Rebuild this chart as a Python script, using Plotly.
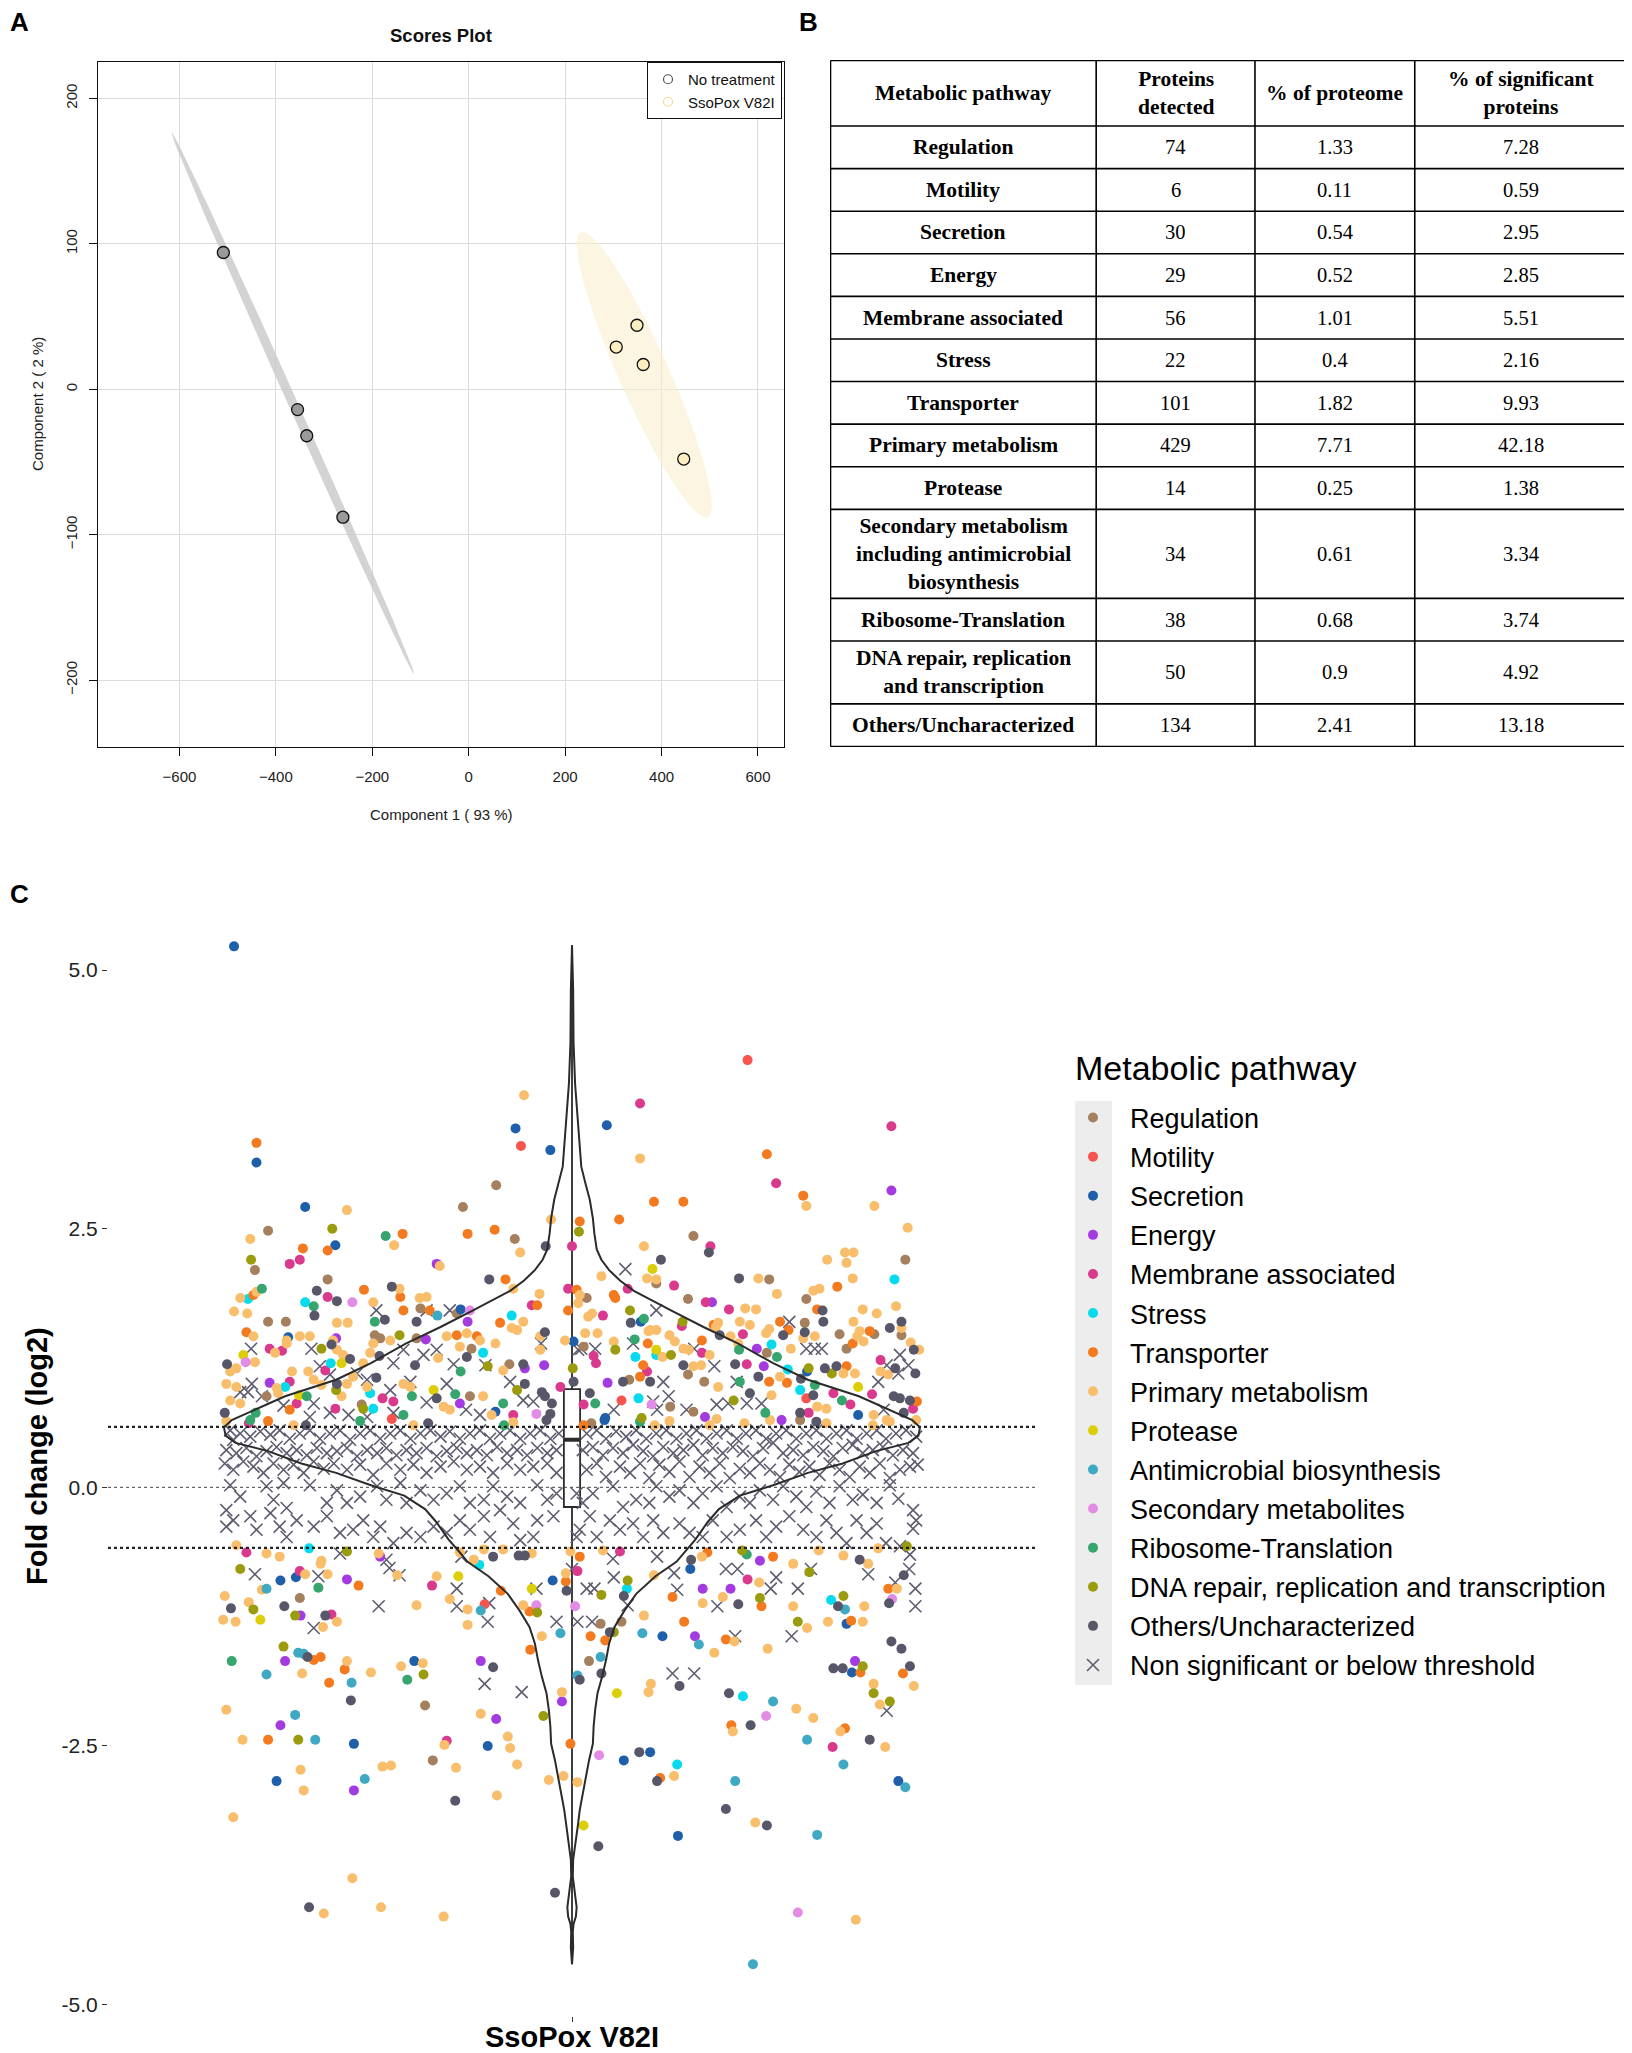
import numpy as np
import plotly.graph_objects as go

# ---------------- Panel A: PCA scores ----------------
no_treat_c1 = [-509, -355, -336, -261]
no_treat_c2 = [94, -14, -32, -88]
sso_c1 = [306, 349, 362, 446]
sso_c2 = [29, 44, 17, -48]
# confidence ellipses: centre x, centre y, half-axis vector a, half-axis vector b
no_treat_ellipse = [-365, -9.5, -252, 186.5, 9.0, 1.4]
sso_ellipse = [364, 10, -132, 98, 47, 7.2]

# ---------------- Panel B: table ----------------
table_header = ["Metabolic pathway", "Proteins<br>detected", "% of proteome", "% of significant<br>proteins"]
pathways = ["Regulation", "Motility", "Secretion", "Energy", "Membrane associated", "Stress",
            "Transporter", "Primary metabolism", "Protease",
            "Secondary metabolism<br>including antimicrobial<br>biosynthesis",
            "Ribosome-Translation", "DNA repair, replication<br>and transcription",
            "Others/Uncharacterized"]
proteins_detected = ["74", "6", "30", "29", "56", "22", "101", "429", "14", "34", "38", "50", "134"]
pct_proteome = ["1.33", "0.11", "0.54", "0.52", "1.01", "0.4", "1.82", "7.71", "0.25", "0.61", "0.68", "0.9", "2.41"]
pct_significant = ["7.28", "0.59", "2.95", "2.85", "5.51", "2.16", "9.93", "42.18", "1.38", "3.34", "3.74", "4.92", "13.18"]
table_col_widths = [266, 159, 160, 213]
table_row_heights = [65.5] + [42.6] * 9 + [89.1, 42.6, 62.9, 42.6]

# ---------------- Panel C: (jitter offset, log2 fold change) ----------------
regulation = [(-0.098,2.92),(-0.141,2.71),(0.157,2.43),(-0.393,2.48),(-0.074,2.40),(0.431,2.20),(-0.410,2.10),(-0.316,2.01),(0.019,1.83),(-0.196,1.73),(-0.149,1.68),(-0.393,1.60),(-0.370,1.60),(-0.255,1.47),(-0.248,1.44),(-0.201,1.44),(-0.130,1.34),(0.015,1.36),(-0.081,1.19),(-0.395,0.88),(-0.272,0.80),(-0.132,0.88),(0.109,1.97),(0.255,2.01),(0.303,1.82),(0.150,1.82),(0.301,1.59),(0.391,1.48),(0.346,1.48),(0.426,1.47),(0.252,1.30),(0.355,1.34),(0.074,1.04),(0.150,1.09),(0.171,1.02),(0.157,0.73),(0.127,0.78),(0.025,0.62),(0.295,0.65),(-0.352,-1.07),(0.037,-1.32),(0.064,-1.30),(0.022,-1.68),(-0.190,-2.11),(-0.180,-2.64)]
motility = [(0.227,4.13),(-0.066,3.30),(-0.233,0.66),(0.303,0.86),(0.064,0.84),(-0.113,-1.13)]
secretion = [(-0.437,5.23),(-0.073,3.47),(0.045,3.50),(-0.028,3.26),(-0.408,3.14),(-0.345,2.71),(-0.306,2.34),(-0.144,1.72),(-0.367,1.45),(0.002,1.41),(-0.099,0.73),(0.089,1.60),(0.304,1.12),(0.370,0.70),(0.043,0.67),(0.042,0.65),(-0.377,-0.90),(-0.357,-0.87),(-0.025,-0.90),(0.117,-1.44),(0.153,-0.79),(0.355,-1.32),(-0.204,-1.68),(0.362,-1.79),(0.422,-2.84),(-0.282,-2.48),(-0.382,-2.84),(-0.109,-2.50),(0.067,-2.64),(0.101,-2.56),(0.137,-3.37)]
energy = [(0.413,2.87),(-0.175,2.16),(-0.135,1.60),(-0.305,1.44),(-0.189,1.43),(-0.061,1.15),(-0.036,1.18),(-0.391,1.01),(-0.145,0.81),(0.181,1.79),(0.239,1.34),(0.046,1.01),(0.248,1.17),(0.271,0.65),(0.172,0.68),(-0.248,-0.67),(0.243,-0.71),(-0.291,-0.89),(-0.351,-1.24),(0.169,-0.98),(0.205,-0.98),(0.159,-1.44),(-0.371,-1.68),(-0.118,-1.68),(-0.013,-2.07),(0.366,-1.68),(-0.377,-2.30),(-0.282,-2.93),(-0.098,-2.24)]
membrane = [(0.088,3.71),(0.413,3.49),(0.264,2.94),(0.000,2.33),(0.179,2.33),(-0.352,2.20),(-0.365,2.16),(-0.005,1.92),(-0.052,1.76),(-0.316,1.84),(-0.391,1.34),(-0.375,1.32),(-0.365,1.02),(-0.356,0.81),(-0.319,1.13),(-0.306,0.76),(-0.245,0.86),(-0.231,0.83),(-0.076,0.70),(-0.015,0.97),(0.132,1.95),(0.072,1.92),(0.173,1.79),(0.203,1.72),(0.040,1.66),(0.142,1.56),(0.221,1.48),(0.168,1.30),(0.028,1.27),(0.031,1.20),(0.097,1.12),(0.226,1.19),(0.399,1.23),(0.388,0.90),(0.338,0.91),(0.360,0.80),(0.306,0.72),(0.441,0.76),(0.015,0.80),(-0.418,0.62),(-0.421,-0.63),(0.062,-0.62),(-0.352,-0.81),(0.007,-0.81),(-0.311,-1.23),(-0.181,-0.95),(0.227,-0.89),(0.337,-2.51),(-0.162,-2.45)]
stress = [(-0.419,1.82),(-0.345,1.79),(-0.078,1.66),(-0.115,1.30),(-0.312,1.20),(-0.371,0.97),(-0.261,0.91),(-0.257,0.76),(0.417,2.01),(0.082,1.26),(0.258,1.38),(0.279,1.14),(0.295,0.94),(0.086,0.86),(0.109,1.28),(-0.340,-0.59),(-0.120,-0.75),(0.071,-0.98),(0.335,-1.09),(0.221,-2.02),(0.136,-2.68)]
transporter = [(-0.408,3.33),(0.252,3.22),(0.299,2.82),(0.106,2.76),(0.144,2.76),(0.010,2.57),(0.061,2.59),(-0.219,2.45),(-0.135,2.45),(-0.100,2.49),(-0.348,2.31),(-0.316,2.29),(-0.269,1.91),(-0.086,2.01),(-0.045,1.76),(0.006,1.91),(-0.005,1.71),(-0.412,1.86),(-0.222,1.84),(-0.218,1.71),(-0.184,1.71),(-0.093,1.59),(-0.421,1.50),(-0.149,1.47),(-0.123,1.46),(-0.365,0.75),(0.343,1.94),(0.054,1.86),(0.056,1.83),(0.317,1.72),(0.183,1.57),(0.269,1.60),(0.280,1.52),(0.385,1.51),(0.098,1.39),(0.168,1.42),(0.363,1.39),(0.088,1.07),(0.092,1.18),(0.255,1.02),(0.278,1.01),(0.355,1.17),(0.446,0.83),(-0.393,0.64),(0.015,0.60),(0.010,-0.67),(0.175,-0.63),(0.260,-0.67),(-0.276,-0.95),(-0.092,-1.00),(-0.055,-1.20),(-0.008,-0.91),(0.024,-1.44),(0.043,-1.48),(0.130,-1.06),(0.145,-1.30),(0.199,-1.47),(0.245,-1.15),(0.361,-1.29),(0.409,-0.98),(-0.334,-1.67),(-0.325,-1.64),(-0.314,-1.89),(-0.294,-1.76),(-0.054,-1.57),(0.373,-1.79),(0.428,-1.80),(0.206,-2.30),(0.353,-2.33),(-0.393,-2.44),(-0.002,-2.48),(0.114,-2.81)]
primary = [(-0.062,3.79),(0.088,3.18),(0.303,2.72),(0.391,2.72),(-0.291,2.68),(-0.027,2.59),(0.434,2.51),(-0.416,2.40),(-0.230,2.34),(-0.067,2.27),(0.093,2.33),(0.353,2.27),(0.364,2.27),(0.330,2.20),
           (-0.171,2.14),(-0.223,1.92),(-0.076,1.92),(-0.042,1.87),(0.008,1.78),(-0.408,1.89),(-0.429,1.83),(-0.437,1.70),(-0.420,1.68),(-0.257,1.79),(-0.197,1.83),(-0.188,1.84),(-0.063,1.60),(-0.078,1.54),(-0.071,1.52),(-0.041,1.46),(-0.304,1.59),(-0.290,1.59),(-0.412,1.46),(-0.369,1.42),(-0.352,1.46),(-0.339,1.46),(-0.309,1.42),(-0.257,1.39),(-0.235,1.42),(-0.162,1.46),(-0.136,1.49),(-0.119,1.42),(-0.369,1.39),(-0.384,1.30),(-0.410,1.21),(-0.434,1.15),(-0.442,1.12),(-0.304,1.33),(-0.296,1.28),(-0.261,1.30),(-0.270,1.20),(-0.173,1.25),(-0.145,1.36),(-0.099,1.39),(-0.089,1.13),(-0.009,1.42),(-0.041,1.33),(-0.447,1.00),(-0.434,0.97),(-0.429,0.81),(-0.442,0.84),(-0.380,0.91),(-0.382,0.96),(-0.362,1.12),(-0.341,1.12),(-0.334,1.04),(-0.324,0.99),(-0.291,1.00),(-0.298,0.88),(-0.283,1.07),(-0.265,0.97),(-0.218,1.00),(-0.209,0.97),(-0.166,0.78),(-0.158,0.75),(-0.115,0.88),(-0.104,0.70),
           (0.355,2.17),(0.038,2.04),(0.097,2.02),(0.109,2.01),(0.241,2.02),(0.265,1.87),(0.363,2.02),(0.312,1.90),(0.320,1.92),(0.010,1.86),(0.224,1.73),(0.238,1.72),(0.376,1.72),(0.394,1.68),(0.419,1.75),(0.426,1.54),(0.438,1.40),(0.449,1.33),(0.021,1.65),(0.026,1.68),(0.101,1.52),(0.109,1.52),(0.189,1.59),(0.186,1.55),(0.217,1.60),(0.230,1.57),(0.255,1.53),(0.251,1.49),(0.364,1.60),(0.372,1.51),(0.314,1.46),(0.299,1.44),(0.017,1.49),(0.033,1.49),(0.054,1.41),(0.099,1.51),(0.126,1.47),(0.133,1.41),(0.117,1.26),(0.144,1.34),(0.151,1.33),(0.178,1.28),(0.205,1.46),(0.215,1.39),(0.283,1.34),(0.377,1.41),(0.369,1.46),(0.157,1.17),(0.167,1.18),(0.189,0.97),(0.269,1.07),(0.351,1.10),(0.366,1.10),(0.399,1.12),(0.409,1.09),(0.317,0.78),(0.329,0.76),(0.256,0.65),(0.258,0.89),(0.187,0.66),(0.390,0.70),(0.407,0.65),
           (-0.447,0.64),(-0.360,0.60),(-0.205,0.60),(-0.076,0.63),(0.107,0.60),(0.126,0.64),(0.178,0.60),(0.223,0.62),(0.329,0.62),(0.389,0.60),(0.411,0.635),(0.445,0.65),
           (-0.434,-0.56),(-0.395,-0.64),(-0.378,-0.67),(-0.324,-0.71),(-0.250,-0.64),(-0.145,-0.63),(-0.127,-0.70),(-0.114,-0.60),(-0.089,-0.60),(-0.052,-0.64),(-0.002,-0.62),(0.040,-0.61),(0.168,-0.67),(0.319,-0.61),(0.351,-0.66),(0.396,-0.59),
           (-0.345,-0.84),(-0.316,-0.84),(-0.325,-0.74),(-0.449,-1.05),(-0.451,-1.28),(-0.435,-1.30),(-0.418,-1.11),(-0.401,-0.99),(-0.322,-1.35),(-0.304,-1.30),(-0.226,-0.85),(-0.201,-1.14),(-0.175,-0.86),(-0.158,-1.08),(-0.135,-1.18),(-0.135,-1.33),(-0.063,-1.14),(-0.008,-0.83),(0.093,-1.24),(0.106,-0.85),(0.169,-1.12),(0.195,-1.06),(0.210,-1.49),(0.242,-0.92),(0.253,-1.56),(0.286,-1.15),(0.286,-0.74),(0.304,-1.36),(0.331,-1.30),(0.376,-1.30),(0.378,-1.15),(0.383,-0.74),(0.420,-0.98),(-0.349,-1.80),(-0.291,-1.68),(-0.260,-1.79),(-0.221,-1.73),(-0.193,-1.70),(-0.039,-1.44),(-0.013,-1.98),(0.102,-1.90),(0.099,-1.98),(0.184,-1.60),(0.290,-2.14),(0.312,-2.23),(0.208,-2.36),(0.347,-2.36),(0.405,-2.51),(0.442,-1.92),(0.390,-1.90),(0.398,-2.10),(-0.447,-2.15),(-0.426,-2.44),(-0.351,-2.73),(-0.347,-2.93),(-0.245,-2.70),(-0.234,-2.69),(-0.165,-2.49),(-0.150,-2.71),(-0.118,-2.19),(-0.083,-2.41),(-0.080,-2.52),(-0.071,-2.68),(-0.097,-2.98),(-0.030,-2.83),(-0.011,-2.79),(0.007,-2.85),(0.132,-2.79),(0.237,-3.24),(0.367,-4.18),(-0.438,-3.19),(-0.284,-3.78),(-0.321,-4.12),(-0.247,-4.06),(-0.166,-4.15)]
protease = [(-0.425,1.28),(-0.298,1.20),(-0.353,0.89),(-0.179,0.94),(0.104,2.11),(0.109,1.33),(0.370,0.97),(-0.403,-1.28),(-0.147,-0.86),(-0.052,-0.98),(0.058,-1.99),(0.015,-3.27)]
antimicrobial = [(-0.174,1.66),(-0.395,-0.98),(-0.118,-1.19),(0.091,-1.41),(0.164,-1.52),(0.353,-1.18),(-0.354,-1.60),(-0.347,-1.61),(-0.395,-1.81),(-0.285,-1.89),(-0.015,-1.41),(0.007,-1.82),(0.037,-1.64),(0.260,-2.07),(0.304,-2.44),(0.351,-2.68),(0.431,-2.90),(-0.358,-2.20),(-0.332,-2.44),(-0.268,-2.82),(0.211,-2.84),(0.317,-3.36),(0.234,-4.61)]
secondary = [(-0.284,1.79),(-0.132,1.71),(-0.422,1.21),(-0.046,0.71),(0.103,0.80),(-0.046,-1.14),(0.004,-1.15),(0.414,-1.08),(0.251,-2.21),(0.035,-2.59),(0.292,-4.11)]
ribosome = [(-0.241,2.43),(-0.401,1.92),(-0.334,1.75),(-0.255,1.60),(-0.144,1.12),(-0.409,0.72),(-0.416,0.65),(-0.343,0.88),(-0.207,0.88),(-0.218,0.70),(-0.151,0.90),(-0.089,0.81),(0.093,1.63),(0.081,1.43),(0.216,1.33),(0.265,1.26),(0.217,1.02),(0.314,0.99),(0.349,0.84),(0.250,0.72),(0.030,0.81),(-0.274,0.64),(-0.088,0.60),(0.088,0.635),(0.226,-0.65),(-0.328,-0.97),(-0.440,-1.68),(-0.213,-1.86)]
dna_repair = [(0.009,2.47),(-0.310,2.50),(-0.415,2.20),(-0.223,1.47),(-0.324,1.34),(-0.109,1.17),(0.001,1.15),(-0.305,0.94),(-0.270,0.76),(-0.071,0.94),(0.075,1.71),(0.143,1.60),(0.128,1.28),(0.056,1.33),(0.306,1.15),(0.336,1.10),(0.209,0.84),(0.090,0.67),(-0.291,-0.62),(0.220,-0.61),(0.433,-0.57),(-0.429,-0.79),(-0.412,-1.18),(-0.358,-1.24),(-0.045,-1.21),(0.038,-1.04),(0.054,-1.40),(0.072,-0.90),(0.243,-1.07),(0.292,-1.30),(0.307,-0.82),(0.351,-1.05),(-0.373,-1.54),(-0.192,-1.81),(0.376,-1.73),(0.390,-1.99),(0.411,-2.07),(-0.354,-2.44),(-0.037,-2.21)]
others = [(-0.034,2.33),(0.177,2.27),(0.115,2.20),(-0.233,1.94),(-0.107,2.01),(-0.330,1.90),(-0.304,1.80),(-0.333,1.66),(-0.242,1.62),(-0.201,1.60),(-0.035,1.50),(-0.446,1.19),(-0.311,1.38),(-0.287,1.24),(-0.249,1.27),(-0.203,1.18),(-0.136,1.26),(-0.063,1.19),(0.002,1.02),(-0.449,0.72),(-0.304,1.00),(-0.253,1.06),(-0.175,0.86),(-0.061,1.00),(-0.039,0.92),(-0.035,0.88),(-0.026,0.81),(-0.028,0.71),(-0.033,0.65),(0.216,2.02),(0.324,1.71),(0.325,1.60),(0.426,1.60),(0.411,1.54),(0.442,1.33),(0.076,1.59),(0.191,1.47),(0.301,1.50),(0.273,1.47),(0.066,1.02),(0.101,1.02),(0.144,1.18),(0.211,1.19),(0.241,1.07),(0.296,1.05),(0.327,1.15),(0.342,1.17),(0.418,1.15),(0.444,1.10),(0.312,0.89),(0.295,0.72),(0.230,0.91),(0.023,0.91),(0.416,0.88),(0.424,0.86),(0.437,0.84),(0.429,0.72),(-0.344,0.60),(-0.186,0.62),(0.316,0.635),(-0.102,-0.67),(-0.069,-0.66),(-0.061,-0.66),(0.154,-0.70),(0.372,-0.70),(-0.441,-1.17),(-0.372,-1.15),(-0.319,-1.24),(-0.007,-1.00),(0.049,-1.40),(0.067,-1.05),(0.215,-1.13),(0.344,-1.15),(0.410,-1.12),(0.429,-0.85),(-0.342,-1.64),(-0.286,-2.06),(-0.102,-1.74),(0.010,-1.86),(0.038,-1.80),(0.139,-1.92),(0.203,-1.99),(0.231,-2.30),(0.338,-1.75),(0.350,-1.75),(0.413,-1.49),(0.426,-1.56),(0.437,-1.73),(0.385,-2.44),(-0.151,-3.03),(0.034,-3.47),(0.087,-2.56),(0.110,-2.84),(0.199,-3.11),(0.252,-3.27),(-0.022,-3.92),(-0.340,-4.06)]
non_significant = [(-0.253,1.71),(-0.188,1.71),(-0.158,1.71),(-0.040,1.39),(-0.415,1.34),(-0.337,1.34),(-0.326,1.17),(-0.231,1.20),(-0.218,1.33),(-0.192,1.28),(-0.175,1.33),(-0.153,1.19),(-0.112,1.18),(0.008,1.33),(-0.429,0.92),(-0.414,1.00),(-0.419,0.92),(-0.401,0.88),(-0.373,0.79),(-0.334,0.81),(-0.339,0.68),(-0.313,1.09),(-0.313,0.72),(-0.278,1.10),(-0.265,1.04),(-0.289,0.70),(-0.265,0.68),(-0.235,0.94),(-0.209,1.02),(-0.231,0.72),(-0.188,0.82),(-0.162,1.00),(-0.137,0.75),(-0.119,0.70),(-0.080,1.02),(-0.063,0.84),(-0.050,0.83),
                   (0.069,2.11),(0.109,1.71),(0.281,1.60),(0.079,1.39),(0.158,1.34),(0.303,1.34),(0.314,1.34),(0.323,1.34),(0.424,1.28),(0.012,1.34),(0.030,1.34),(0.118,1.02),(0.184,1.17),(0.213,1.02),(0.407,1.18),(0.422,1.10),(0.435,1.18),(0.396,1.02),(0.226,0.81),(0.245,0.81),(0.187,0.80),(0.202,0.81),(0.148,0.75),(0.105,0.83),(0.110,0.75),(0.125,0.88),(0.054,0.75),(0.403,0.75),
                   (-0.442,0.55),(-0.429,0.52),(-0.438,0.46),(-0.416,0.49),(-0.403,0.54),(-0.390,0.51),(-0.378,0.55),(-0.365,0.47),(-0.352,0.52),(-0.339,0.55),(-0.326,0.47),(-0.313,0.52),(-0.300,0.55),(-0.287,0.46),(-0.274,0.52),(-0.261,0.55),(-0.248,0.47),(-0.235,0.52),(-0.222,0.55),(-0.209,0.47),(-0.196,0.52),(-0.183,0.55),(-0.170,0.49),(-0.158,0.54),(-0.145,0.47),(-0.132,0.52),(-0.119,0.55),(-0.106,0.47),(-0.093,0.52),(-0.080,0.55),(-0.067,0.47),(-0.054,0.52),(-0.041,0.55),(-0.028,0.47),(-0.017,0.52),
                   (-0.447,0.36),(-0.434,0.33),(-0.421,0.38),(-0.408,0.30),(-0.395,0.35),(-0.382,0.39),(-0.369,0.33),(-0.356,0.36),(-0.343,0.31),(-0.330,0.38),(-0.317,0.33),(-0.304,0.35),(-0.291,0.38),(-0.278,0.30),(-0.265,0.36),(-0.252,0.33),(-0.240,0.38),(-0.227,0.31),(-0.214,0.36),(-0.201,0.33),(-0.188,0.38),(-0.175,0.30),(-0.162,0.35),(-0.149,0.38),(-0.136,0.33),(-0.123,0.36),(-0.110,0.31),(-0.097,0.39),(-0.084,0.33),(-0.071,0.36),(-0.058,0.31),(-0.045,0.38),(-0.032,0.33),(-0.020,0.36),
                   (-0.449,0.23),(-0.438,0.17),(-0.425,0.25),(-0.412,0.20),(-0.399,0.14),(-0.386,0.23),(-0.373,0.17),(-0.360,0.22),(-0.347,0.14),(-0.334,0.25),(-0.321,0.18),(-0.308,0.23),(-0.291,0.17),(-0.274,0.22),(-0.257,0.12),(-0.240,0.23),(-0.222,0.17),(-0.205,0.22),(-0.188,0.14),(-0.170,0.20),(-0.153,0.25),(-0.136,0.17),(-0.119,0.20),(-0.102,0.14),(-0.084,0.23),(-0.067,0.17),(-0.050,0.20),(-0.032,0.23),(-0.020,0.14),
                   (-0.442,0.02),(-0.429,-0.09),(-0.395,0.01),(-0.386,-0.12),(-0.369,-0.20),(-0.373,0.04),(-0.339,0.02),(-0.317,-0.15),(-0.304,-0.03),(-0.291,-0.15),(-0.274,-0.09),(-0.252,0.01),(-0.240,-0.12),(-0.222,0.04),(-0.214,-0.15),(-0.196,-0.03),(-0.179,-0.12),(-0.162,-0.06),(-0.145,0.01),(-0.132,-0.15),(-0.114,-0.12),(-0.102,0.01),(-0.084,-0.09),(-0.067,-0.15),(-0.045,0.02),(-0.032,-0.12),(-0.020,-0.06),(0.006,-0.06),
                   (-0.447,-0.22),(-0.447,-0.38),(-0.438,-0.32),(-0.416,-0.28),(-0.408,-0.41),(-0.390,-0.25),(-0.378,-0.38),(-0.369,-0.48),(-0.356,-0.32),(-0.334,-0.38),(-0.317,-0.28),(-0.300,-0.44),(-0.283,-0.41),(-0.270,-0.32),(-0.257,-0.48),(-0.248,-0.38),(-0.231,-0.54),(-0.214,-0.44),(-0.196,-0.48),(-0.179,-0.38),(-0.162,-0.44),(-0.145,-0.32),(-0.132,-0.41),(-0.114,-0.28),(-0.106,-0.48),(-0.093,-0.22),(-0.076,-0.35),(-0.067,-0.51),(-0.050,-0.48),(-0.045,-0.32),(-0.024,-0.28),(0.006,-0.48),
                   (-0.300,-0.64),(-0.240,-0.70),(-0.143,-0.67),
                   (0.019,0.52),(0.032,0.55),(0.044,0.47),(0.057,0.54),(0.070,0.49),(0.083,0.55),(0.096,0.47),(0.109,0.52),(0.122,0.55),(0.135,0.47),(0.148,0.52),(0.161,0.55),(0.174,0.47),(0.187,0.52),(0.200,0.55),(0.213,0.47),(0.225,0.52),(0.238,0.55),(0.251,0.47),(0.264,0.52),(0.277,0.55),(0.290,0.47),(0.303,0.52),(0.316,0.55),(0.329,0.47),(0.342,0.52),(0.355,0.55),(0.368,0.47),(0.381,0.52),(0.394,0.55),(0.406,0.47),(0.419,0.52),(0.432,0.55),(0.445,0.49),
                   (0.014,0.36),(0.027,0.39),(0.040,0.31),(0.053,0.38),(0.066,0.33),(0.079,0.41),(0.092,0.35),(0.105,0.30),(0.118,0.39),(0.131,0.33),(0.144,0.36),(0.157,0.41),(0.169,0.31),(0.182,0.38),(0.195,0.33),(0.208,0.39),(0.221,0.35),(0.234,0.30),(0.247,0.38),(0.260,0.43),(0.273,0.33),(0.286,0.36),(0.299,0.31),(0.312,0.39),(0.325,0.35),(0.338,0.30),(0.350,0.38),(0.363,0.41),(0.376,0.33),(0.389,0.36),(0.402,0.39),(0.415,0.31),(0.428,0.36),(0.441,0.33),
                   (0.019,0.17),(0.032,0.23),(0.044,0.10),(0.062,0.20),(0.075,0.14),(0.088,0.23),(0.100,0.09),(0.113,0.22),(0.126,0.15),(0.139,0.25),(0.152,0.10),(0.165,0.20),(0.178,0.14),(0.191,0.23),(0.204,0.09),(0.217,0.18),(0.230,0.14),(0.243,0.23),(0.256,0.17),(0.269,0.10),(0.281,0.22),(0.294,0.15),(0.307,0.20),(0.320,0.12),(0.333,0.23),(0.346,0.17),(0.359,0.10),(0.372,0.20),(0.385,0.14),(0.398,0.23),(0.411,0.09),(0.424,0.17),(0.437,0.20),(0.447,0.22),
                   (0.014,-0.15),(0.027,-0.06),(0.053,0.01),(0.066,-0.19),(0.083,-0.12),(0.100,-0.15),(0.109,0.01),(0.126,-0.09),(0.139,-0.03),(0.157,-0.15),(0.169,-0.06),(0.187,0.01),(0.200,-0.19),(0.217,-0.09),(0.230,-0.15),(0.243,-0.03),(0.260,-0.12),(0.273,0.01),(0.290,-0.09),(0.303,-0.19),(0.316,-0.04),(0.333,-0.15),(0.346,0.01),(0.363,-0.12),(0.376,-0.07),(0.394,-0.15),(0.411,0.02),(0.422,-0.11),(0.441,-0.22),
                   (0.010,-0.41),(0.023,-0.28),(0.032,-0.48),(0.049,-0.32),(0.062,-0.41),(0.079,-0.35),(0.092,-0.48),(0.105,-0.32),(0.118,-0.44),(0.139,-0.35),(0.152,-0.44),(0.169,-0.48),(0.182,-0.32),(0.200,-0.48),(0.217,-0.41),(0.238,-0.32),(0.251,-0.48),(0.264,-0.38),(0.281,-0.28),(0.299,-0.41),(0.316,-0.48),(0.329,-0.32),(0.342,-0.44),(0.355,-0.54),(0.368,-0.32),(0.381,-0.44),(0.394,-0.35),(0.406,-0.54),(0.424,-0.57),(0.441,-0.40),(0.445,-0.32),
                   (0.110,-0.67),(0.053,-0.69),(0.437,-0.65),
                   (-0.410,-0.84),(-0.328,-0.86),(-0.236,-0.78),(-0.223,-0.85),(-0.149,-0.98),(-0.149,-1.15),(-0.107,-1.12),(-0.109,-1.30),(-0.046,-0.98),(-0.020,-1.30),(0.000,-0.79),(0.007,-1.30),(0.026,-1.30),(0.019,-0.98),(0.029,-0.98),(0.054,-0.87),(0.072,-1.14),(0.132,-0.83),(0.136,-0.99),(0.188,-1.15),(0.211,-1.44),(0.199,-0.79),(0.214,-0.79),(0.257,-0.98),(0.264,-0.87),(0.284,-1.44),(0.292,-0.98),(0.309,-0.79),(0.383,-0.84),(0.418,-0.92),(0.436,-0.79),(0.444,-0.98),(0.444,-1.15),(-0.334,-1.36),(-0.250,-1.15),(-0.113,-1.90),(-0.065,-1.98),(0.130,-1.80),(0.158,-1.80),(0.407,-2.16)]

category_names = ["Regulation", "Motility", "Secretion", "Energy", "Membrane associated", "Stress",
                  "Transporter", "Primary metabolism", "Protease", "Antimicrobial biosynthesis",
                  "Secondary metabolites", "Ribosome-Translation",
                  "DNA repair, replication and transcription", "Others/Uncharacterized"]
category_points = [regulation, motility, secretion, energy, membrane, stress, transporter, primary,
                   protease, antimicrobial, secondary, ribosome, dna_repair, others]
category_colors = ["#A5805F", "#F5544F", "#1F5FAA", "#A33BE0", "#D93A8E", "#08DAEE", "#F47A20",
                   "#F9BE6B", "#DCCF0A", "#3FA9C4", "#E38CE6", "#36A56E", "#9B9B0E", "#575769"]

# violin outline: fold change level and half width
violin_level = [5.24, 4.8, 4.3, 3.9, 3.6, 3.3, 3.1, 2.95, 2.78, 2.6, 2.45, 2.3, 2.2, 2.1, 2.0, 1.9, 1.84, 1.71, 1.55, 1.39, 1.2, 1.04, 0.88, 0.75, 0.65, 0.58, 0.5, 0.43, 0.35, 0.23, 0.14, 0.02, -0.08, -0.21, -0.34, -0.5, -0.63, -0.72, -0.86, -1.03, -1.19, -1.35, -1.51, -1.67, -1.83, -1.99, -2.15, -2.31, -2.48, -2.64, -2.80, -2.96, -3.12, -3.28, -3.44, -3.60, -3.76, -3.9, -4.0, -4.06, -4.15, -4.22, -4.3, -4.45, -4.61]
violin_half_width = [0, 0.0015, 0.002, 0.004, 0.007, 0.010, 0.012, 0.017, 0.023, 0.027, 0.029, 0.032, 0.038, 0.048, 0.062, 0.08, 0.095, 0.128, 0.17, 0.215, 0.26, 0.305, 0.371, 0.41, 0.44, 0.45, 0.448, 0.435, 0.393, 0.35, 0.305, 0.26, 0.217, 0.19, 0.175, 0.16, 0.145, 0.135, 0.108, 0.083, 0.068, 0.055, 0.048, 0.044, 0.039, 0.033, 0.030, 0.028, 0.027, 0.022, 0.018, 0.014, 0.010, 0.0074, 0.0045, 0.0015, 0.001, 0.003, 0.005, 0.006, 0.005, 0.002, 0.001, 0.0015, 0]
# box: min, q1, median, q3, max
box_stats = [-4.61, -0.19, 0.46, 0.95, 5.24]
thresholds = [0.585, -0.585]

# page is drawn with an 8 px body margin; lay out in screen pixels
OFF = 8
FW, FH = 1632 - OFF, 2053 - OFF
def px(x):
    return (x - OFF) / FW
def py(y):
    return 1 - (y - OFF) / FH

SANS = "Liberation Sans, Arial, sans-serif"
SERIF = "Liberation Serif, Times New Roman, serif"

fig = go.Figure()

# ---- Panel A ----
t = np.linspace(0, 2 * np.pi, 160)
for ell, col in [(no_treat_ellipse, "rgba(200,200,200,0.8)"), (sso_ellipse, "rgba(250,238,205,0.6)")]:
    cx, cy, ax_, ay_, bx_, by_ = ell
    fig.add_trace(go.Scatter(x=cx + ax_ * np.cos(t) + bx_ * np.sin(t), y=cy + ay_ * np.cos(t) + by_ * np.sin(t),
                             mode="lines", fill="toself", fillcolor=col, line=dict(width=0),
                             hoverinfo="skip", showlegend=False, xaxis="x", yaxis="y"))
fig.add_trace(go.Scatter(x=no_treat_c1, y=no_treat_c2, mode="markers", showlegend=False,
                         marker=dict(size=12, color="#9A9A9A", line=dict(color="#111", width=1.3)),
                         xaxis="x", yaxis="y"))
fig.add_trace(go.Scatter(x=sso_c1, y=sso_c2, mode="markers", showlegend=False,
                         marker=dict(size=12, color="#FBEFC2", line=dict(color="#111", width=1.3)),
                         xaxis="x", yaxis="y"))
for name, col in [("No treatment", "#555555"), ("SsoPox V82I", "#F2DD8C")]:
    fig.add_trace(go.Scatter(x=[None], y=[None], mode="markers", name=name, legend="legend2",
                             marker=dict(symbol="circle-open", size=9, color=col, line=dict(width=1.2)),
                             xaxis="x", yaxis="y"))

# ---- Panel B (table drawn on a hidden axis pair) ----
col_edges = np.concatenate([[0], np.cumsum(table_col_widths)])
row_edges = np.concatenate([[0], np.cumsum(table_row_heights)])
fig.add_trace(go.Scatter(x=[None], y=[None], showlegend=False, xaxis="x3", yaxis="y3"))
table_rows = [table_header] + [list(r) for r in zip(pathways, proteins_detected, pct_proteome, pct_significant)]
annotations = []
for r, row in enumerate(table_rows):
    yc = (row_edges[r] + row_edges[r + 1]) / 2
    for c, txt in enumerate(row):
        xc = (col_edges[c] + col_edges[c + 1]) / 2
        bold = r == 0 or c == 0
        annotations.append(dict(text="<b>%s</b>" % txt if bold else txt, x=xc, y=yc, xref="x3", yref="y3",
                                showarrow=False, align="center", xanchor="center", yanchor="middle",
                                font=dict(family=SERIF, size=21.5 if bold else 20.5, color="black")))
shapes = []
for xe in col_edges:
    shapes.append(dict(type="line", xref="x3", yref="y3", x0=xe, x1=xe, y0=0, y1=row_edges[-1],
                       line=dict(color="black", width=1.6)))
for ye in row_edges:
    shapes.append(dict(type="line", xref="x3", yref="y3", x0=0, x1=col_edges[-1], y0=ye, y1=ye,
                       line=dict(color="black", width=1.6)))

# ---- Panel C ----
fig.add_trace(go.Scatter(x=[1 + p[0] for p in non_significant], y=[p[1] for p in non_significant],
                         mode="markers", name="Non significant or below threshold", legendrank=1014,
                         legendgroup="ns",
                         marker=dict(symbol="x-thin", size=12, color="#5E5D70",
                                     line=dict(color="#5E5D70", width=1.6)),
                         xaxis="x2", yaxis="y2"))
for i, (name, pts, col) in enumerate(zip(category_names, category_points, category_colors)):
    fig.add_trace(go.Scatter(x=[1 + p[0] for p in pts], y=[p[1] for p in pts], mode="markers",
                             name=name, legendrank=1000 + i, legendgroup=name,
                             marker=dict(size=10, color=col, line=dict(width=0)),
                             xaxis="x2", yaxis="y2"))

vl = np.array(violin_level)
vw = np.array(violin_half_width)
fig.add_trace(go.Scatter(x=np.concatenate([1 + vw, (1 - vw)[::-1]]), y=np.concatenate([vl, vl[::-1]]),
                         mode="lines", line=dict(color="#2B2B2B", width=2), showlegend=False,
                         hoverinfo="skip", xaxis="x2", yaxis="y2"))
box_w = 0.021
fig.add_trace(go.Box(x=[1], lowerfence=[box_stats[0]], q1=[box_stats[1]], median=[box_stats[2]],
                     q3=[box_stats[3]], upperfence=[box_stats[4]], width=box_w, whiskerwidth=0,
                     fillcolor="white", line=dict(color="#2B2B2B", width=1.8), showlegend=False,
                     boxpoints=False, xaxis="x2", yaxis="y2"))
fig.add_trace(go.Scatter(x=[1 - box_w / 2, 1 + box_w / 2], y=[box_stats[2]] * 2, mode="lines",
                         line=dict(color="#2B2B2B", width=4), showlegend=False, hoverinfo="skip",
                         xaxis="x2", yaxis="y2"))

for thr in thresholds:
    shapes.append(dict(type="line", xref="x2 domain", yref="y2", x0=0, x1=1, y0=thr, y1=thr,
                       line=dict(color="#222", width=2.2, dash="dot")))
shapes.append(dict(type="line", xref="x2 domain", yref="y2", x0=0, x1=1, y0=0, y1=0,
                   line=dict(color="#444", width=1, dash="dot")))
# grey column behind legend keys
shapes.append(dict(type="rect", xref="paper", yref="paper", x0=px(1075), x1=px(1112),
                   y0=py(1685), y1=py(1101), fillcolor="#EDEDED", line=dict(width=0), layer="below"))

def label(text, x, y, size, color="#222", xanchor="center", angle=0, family=SANS):
    return dict(text=text, x=px(x), y=py(y), xref="paper", yref="paper", xanchor=xanchor,
                yanchor="middle", showarrow=False, textangle=angle,
                font=dict(family=family, size=size, color=color))

annotations += [
    label("<b>A</b>", 8, 22, 26, "black", "left"),
    label("<b>B</b>", 797, 22, 26, "black", "left"),
    label("<b>C</b>", 8, 894, 26, "black", "left"),
    label("<b>Scores Plot</b>", 441, 35, 18.5, "#111"),
    label("Component 1 ( 93 %)", 441, 814, 15),
    label("Component 2 ( 2 %)", 37, 404, 15, angle=-90),
    label("<b>Fold change (log2)</b>", 37, 1456, 29, "black", angle=-90),
    label("Metabolic pathway", 1073, 1068, 34, "black", "left"),
]

fig.update_layout(
    width=FW, height=FH, margin=dict(l=0, r=0, t=0, b=0, autoexpand=False),
    paper_bgcolor="white", plot_bgcolor="white",
    font=dict(family=SANS, color="#222"),
    xaxis=dict(domain=[px(98), px(784)], range=[-769, 654], tickvals=[-600, -400, -200, 0, 200, 400, 600],
               showgrid=True, gridcolor="#DCDCDC", zeroline=False, showline=True, mirror=True,
               linecolor="#111", linewidth=1.3, ticks="outside", ticklen=8, tickcolor="#111",
               ticklabelstandoff=8, tickfont=dict(size=15, color="#222"), anchor="y"),
    yaxis=dict(domain=[py(747), py(62)], range=[-246, 225], tickvals=[-200, -100, 0, 100, 200],
               showgrid=True, gridcolor="#DCDCDC", zeroline=False, showline=True, mirror=True,
               linecolor="#111", linewidth=1.3, ticks="outside", ticklen=8, tickcolor="#111",
               ticklabelstandoff=6, tickangle=-90, tickfont=dict(size=15, color="#222"), anchor="x"),
    xaxis2=dict(domain=[px(108), px(1036)], range=[0.4, 1.6], tickvals=[1], ticktext=["SsoPox V82I"],
                showgrid=False, zeroline=False, showline=False, ticks="outside", ticklen=5,
                ticklabelstandoff=-10,
                tickcolor="#333", tickfont=dict(size=29, color="black", weight="bold"), anchor="y2"),
    yaxis2=dict(domain=[py(2016), py(900)], range=[-5.111, 5.678],
                tickvals=[-5, -2.5, 0, 2.5, 5], ticktext=["-5.0", "-2.5", "0.0", "2.5", "5.0"],
                showgrid=False, zeroline=False, showline=False, ticks="outside", ticklen=5,
                tickcolor="#333", tickfont=dict(size=21, color="#222"), anchor="x2"),
    xaxis3=dict(domain=[px(830), px(1628)], range=[-0.5, col_edges[-1] + 0.5], visible=False, anchor="y3"),
    yaxis3=dict(domain=[py(747), py(60)], range=[row_edges[-1] + 0.5, -0.5], visible=False, anchor="x3"),
    legend=dict(x=px(1056), y=py(1093.5), xanchor="left", yanchor="top", bgcolor="rgba(0,0,0,0)",
                font=dict(family=SANS, size=27, color="black"), itemsizing="trace", itemwidth=64,
                tracegroupgap=1),
    legend2=dict(x=px(782), y=py(62), xanchor="right", yanchor="top", bgcolor="white",
                 bordercolor="#111", borderwidth=1, font=dict(family=SANS, size=15, color="#111")),
    shapes=shapes, annotations=annotations, showlegend=True,
)

fig.write_html("out.html")
